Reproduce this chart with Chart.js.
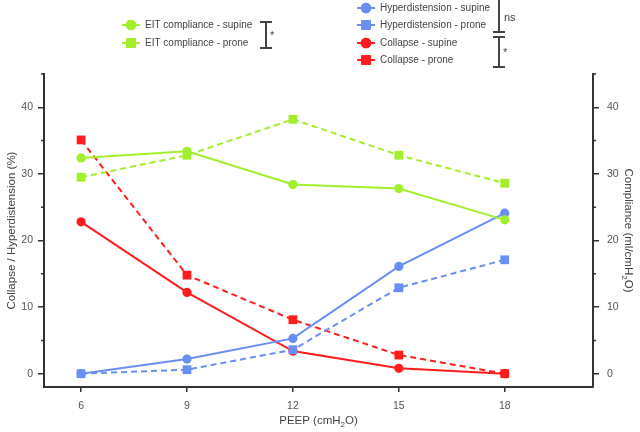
<!DOCTYPE html>
<html>
<head>
<meta charset="utf-8">
<script src="https://cdn.jsdelivr.net/npm/chart.js@4/dist/chart.umd.min.js"></script>
<style>
  html, body { margin: 0; padding: 0; background: #fff; }
</style>
</head>
<body>
<canvas id="chart" width="640" height="432"></canvas>
<script>
const peep = [6, 9, 12, 15, 18];
const eitSupine = [32.4, 33.4, 28.4, 27.8, 23.1];
const eitProne = [29.5, 32.8, 38.2, 32.8, 28.6];
const hyperSupine = [0, 2.2, 5.3, 16.1, 24.1];
const hyperProne = [0, 0.6, 3.6, 12.9, 17.1];
const collapseSupine = [22.8, 12.2, 3.4, 0.8, 0];
const collapseProne = [35.1, 14.8, 8.1, 2.8, 0];
const yTicks = [0, 10, 20, 30, 40];

const GREEN = "#a2ef2c";
const BLUE = "#6a8ef2";
const RED = "#ff1c1c";
const FONT = "Liberation Sans, Arial, sans-serif";

function pts(vals) {
  return peep.map((x, i) => ({ x: x, y: vals[i] }));
}

function series(label, vals, color, prone, axis) {
  return {
    label: label,
    data: pts(vals),
    yAxisID: axis,
    borderColor: color,
    backgroundColor: color,
    pointBackgroundColor: color,
    pointBorderColor: color,
    borderWidth: 2,
    borderDash: prone ? [6, 4] : [],
    pointStyle: prone ? "rect" : "circle",
    pointRadius: prone ? 6.2 : 4.6,
    pointBorderWidth: 0,
    tension: 0,
  };
}

const datasets = [
  series("EIT compliance - supine", eitSupine, GREEN, false, "y2"),
  series("EIT compliance - prone", eitProne, GREEN, true, "y2"),
  series("Hyperdistension - supine", hyperSupine, BLUE, false, "y"),
  series("Hyperdistension - prone", hyperProne, BLUE, true, "y"),
  series("Collapse - supine", collapseSupine, RED, false, "y"),
  series("Collapse - prone", collapseProne, RED, true, "y"),
];

function drawTitle(ctx, parts, x, y, rot) {
  // parts: [text, isSub]
  ctx.save();
  ctx.translate(x, y);
  ctx.rotate(rot);
  ctx.fillStyle = "#444";
  ctx.textBaseline = "middle";
  let total = 0;
  parts.forEach(p => {
    ctx.font = (p[1] ? "8px " : "11.5px ") + FONT;
    total += ctx.measureText(p[0]).width;
  });
  let cx = -total / 2;
  parts.forEach(p => {
    ctx.font = (p[1] ? "8px " : "11.5px ") + FONT;
    ctx.textAlign = "left";
    ctx.fillText(p[0], cx, p[1] ? 4 : 0);
    cx += ctx.measureText(p[0]).width;
  });
  ctx.restore();
}

function legendItem(ctx, ds, x, y) {
  ctx.save();
  ctx.strokeStyle = ds.borderColor;
  ctx.fillStyle = ds.borderColor;
  ctx.lineWidth = 2;
  ctx.beginPath();
  ctx.moveTo(x - 9, y);
  ctx.lineTo(x + 9, y);
  ctx.stroke();
  Chart.helpers.drawPoint(ctx, {
    pointStyle: ds.pointStyle,
    radius: ds.pointRadius + 0.6,
    borderWidth: 0,
  }, x, y);
  ctx.fill();
  ctx.fillStyle = "#444";
  ctx.font = "10px " + FONT;
  ctx.textAlign = "left";
  ctx.textBaseline = "middle";
  ctx.fillText(ds.label, x + 14, y);
  ctx.restore();
}

function bracket(ctx, x, y1, y2, capTop, capBottom) {
  ctx.save();
  ctx.strokeStyle = "#444";
  ctx.lineWidth = 2;
  ctx.beginPath();
  ctx.moveTo(x, y1);
  ctx.lineTo(x, y2);
  if (capTop) { ctx.moveTo(x - 6, y1); ctx.lineTo(x + 6, y1); }
  if (capBottom) { ctx.moveTo(x - 6, y2); ctx.lineTo(x + 6, y2); }
  ctx.stroke();
  ctx.restore();
}

const extras = {
  id: "extras",
  afterDraw(chart) {
    const ctx = chart.ctx;
    const ca = chart.chartArea;
    const yl = chart.scales.y;
    // minor ticks
    ctx.save();
    ctx.strokeStyle = "#333";
    ctx.lineWidth = 1.5;
    [5, 15, 25, 35, 45].forEach(v => {
      const py = yl.getPixelForValue(v);
      ctx.beginPath();
      ctx.moveTo(ca.left - 3, py);
      ctx.lineTo(ca.left, py);
      ctx.moveTo(ca.right, py);
      ctx.lineTo(ca.right + 3, py);
      ctx.stroke();
    });
    ctx.restore();

    // axis titles
    drawTitle(ctx, [["PEEP (cmH", false], ["2", true], ["O)", false]], (ca.left + ca.right) / 2, 421, 0);
    drawTitle(ctx, [["Collapse / Hyperdistension (%)", false]], 12, (ca.top + ca.bottom) / 2, -Math.PI / 2);
    drawTitle(ctx, [["Compliance (ml/cmH", false], ["2", true], ["O)", false]], 628, (ca.top + ca.bottom) / 2, Math.PI / 2);

    // legends
    const ds = chart.data.datasets;
    legendItem(ctx, ds[0], 131, 25);
    legendItem(ctx, ds[1], 131, 43);
    legendItem(ctx, ds[2], 366, 8);
    legendItem(ctx, ds[3], 366, 25);
    legendItem(ctx, ds[4], 366, 43);
    legendItem(ctx, ds[5], 366, 60);

    // significance brackets
    bracket(ctx, 266, 22, 48, true, true);
    bracket(ctx, 499, -2, 32, true, true);
    bracket(ctx, 499, 37, 67, true, true);
    ctx.save();
    ctx.fillStyle = "#444";
    ctx.font = "11px " + FONT;
    ctx.textBaseline = "middle";
    ctx.textAlign = "left";
    ctx.fillText("*", 270, 36);
    ctx.fillText("ns", 504, 18);
    ctx.fillText("*", 503, 53);
    ctx.restore();
  },
};

const tickFont = { family: FONT, size: 10.5 };

new Chart(document.getElementById("chart"), {
  type: "line",
  data: { datasets: datasets },
  plugins: [extras],
  options: {
    responsive: false,
    animation: false,
    layout: { padding: { top: 74, left: 0, right: 0, bottom: 0 } },
    plugins: { legend: { display: false }, tooltip: { enabled: false } },
    scales: {
      x: {
        type: "linear",
        min: 4.95,
        max: 20.5,
        afterBuildTicks: s => { s.ticks = peep.map(v => ({ value: v })); },
        afterFit: s => { s.height = 45; },
        grid: { drawOnChartArea: false, tickLength: 5, color: "#333", lineWidth: 1.5 },
        border: { display: true, color: "#333", width: 2 },
        ticks: { color: "#555", font: tickFont, padding: 8 },
      },
      y: {
        position: "left",
        min: -2,
        max: 45,
        afterBuildTicks: s => { s.ticks = yTicks.map(v => ({ value: v })); },
        afterFit: s => { s.width = 44; },
        grid: { drawOnChartArea: false, tickLength: 6, color: "#333", lineWidth: 1.5 },
        border: { display: true, color: "#333", width: 2 },
        ticks: { color: "#555", font: tickFont, padding: 5 },
      },
      y2: {
        position: "right",
        min: -2,
        max: 45,
        afterBuildTicks: s => { s.ticks = yTicks.map(v => ({ value: v })); },
        afterFit: s => { s.width = 47; },
        grid: { drawOnChartArea: false, tickLength: 6, color: "#333", lineWidth: 1.5 },
        border: { display: true, color: "#333", width: 2 },
        ticks: { color: "#555", font: tickFont, padding: 8 },
      },
    },
  },
});
</script>
</body>
</html>
